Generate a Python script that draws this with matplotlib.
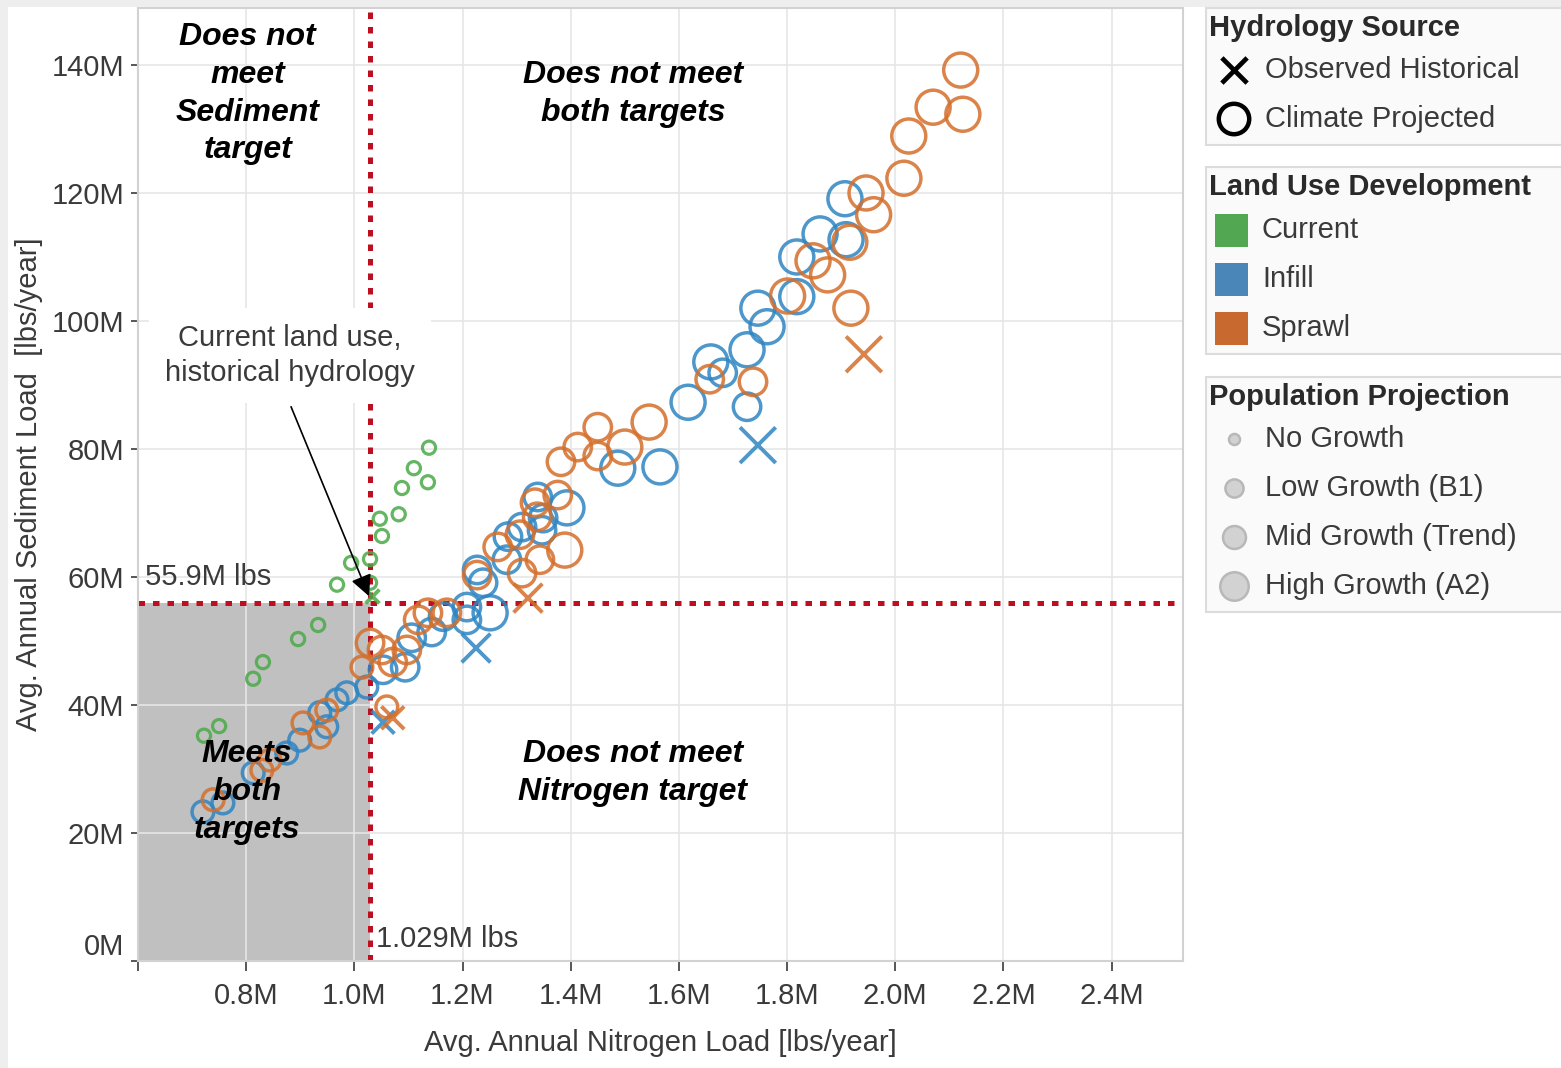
import matplotlib.pyplot as plt
import numpy as np

plt.rcParams['font.family'] = ['Liberation Sans', 'DejaVu Sans']

# growth class: 0 no growth, 1 low (B1), 2 mid (trend), 3 high (A2)
cur_x = [1.138, 1.110, 1.136, 1.088, 1.082, 1.047, 1.051, 1.029, 0.994, 0.968,
         1.029, 0.933, 0.896, 0.831, 0.813, 0.750, 0.722]
cur_y = [80.2, 77.0, 74.8, 73.9, 69.8, 69.1, 66.4, 62.8, 62.2, 58.8,
         59.1, 52.5, 50.3, 46.7, 44.1, 36.7, 35.2]
cur_hist_x = [1.033]
cur_hist_y = [57.0]

inf_x = [1.907, 1.861, 1.909, 1.818, 1.818, 1.746, 1.763, 1.726, 1.659, 1.681,
         1.617, 1.726, 1.565, 1.487, 1.393, 1.339, 1.349, 1.310, 1.284, 1.347,
         1.282, 1.227, 1.238, 1.251, 1.208, 1.208, 1.164, 1.143, 1.106, 1.094,
         1.053, 1.023, 0.986, 0.968, 0.936, 0.949, 0.899, 0.875, 0.813, 0.757,
         0.720]
inf_y = [119.1, 113.6, 112.7, 110.0, 103.8, 102.0, 99.1, 95.5, 93.6, 91.9,
         87.3, 86.6, 77.2, 77.0, 70.8, 72.5, 69.2, 67.8, 66.3, 67.3,
         62.7, 61.1, 59.1, 54.4, 53.3, 55.3, 53.8, 51.4, 50.5, 45.9,
         45.5, 42.8, 41.9, 40.8, 38.8, 36.6, 34.5, 32.5, 29.4, 24.7,
         23.3]
inf_g = [3, 3, 3, 3, 3, 3, 3, 3, 3, 2,
         3, 2, 3, 3, 3, 2, 2, 2, 2, 2,
         2, 2, 2, 3, 2, 2, 2, 2, 2, 2,
         2, 1, 1, 1, 1, 1, 1, 1, 1, 1,
         1]
inf_hist_x = [1.746, 1.225, 1.053]
inf_hist_y = [80.6, 48.9, 37.3]
inf_hist_g = [3, 2, 1]

spr_x = [2.121, 2.070, 2.125, 2.025, 2.016, 1.946, 1.960, 1.916, 1.848, 1.875,
         1.918, 1.801, 1.657, 1.737, 1.545, 1.450, 1.413, 1.500, 1.450, 1.382,
         1.376, 1.334, 1.338, 1.306, 1.265, 1.389, 1.343, 1.310, 1.227, 1.171,
         1.136, 1.118, 1.097, 1.051, 1.071, 1.029, 1.014, 1.060, 0.949, 0.905,
         0.936, 0.844, 0.829, 0.739]
spr_y = [139.2, 133.4, 132.3, 128.9, 122.3, 120.0, 116.6, 112.3, 109.4, 107.2,
         102.0, 103.9, 90.9, 90.5, 84.2, 83.4, 80.3, 80.3, 78.9, 78.0,
         72.8, 71.6, 69.4, 66.6, 64.7, 64.2, 62.7, 60.6, 60.3, 54.4,
         54.4, 53.3, 48.6, 48.6, 46.7, 49.7, 45.9, 39.7, 39.2, 37.2,
         35.0, 31.4, 29.8, 25.2]
spr_g = [3, 3, 3, 3, 3, 3, 3, 3, 3, 3,
         3, 3, 2, 2, 3, 2, 2, 3, 2, 2,
         2, 2, 2, 2, 2, 3, 2, 2, 2, 2,
         2, 2, 2, 2, 2, 2, 1, 1, 1, 1,
         1, 1, 1, 1]
spr_hist_x = [1.942, 1.321, 1.071]
spr_hist_y = [94.8, 56.7, 38.0]
spr_hist_g = [3, 2, 1]

n_target = 1.029   # M lbs nitrogen
s_target = 55.9    # M lbs sediment

growth_labels = ['No Growth', 'Low Growth (B1)', 'Mid Growth (Trend)', 'High Growth (A2)']
landuse_labels = ['Current', 'Infill', 'Sprawl']
hydro_labels = ['Observed Historical', 'Climate Projected']

x_ticks = [0.6, 0.8, 1.0, 1.2, 1.4, 1.6, 1.8, 2.0, 2.2, 2.4]
y_ticks = [0, 20, 40, 60, 80, 100, 120, 140]

GREEN, BLUE, ORANGE = '#4aaa48', '#2f85c2', '#d46f2b'
LEG_COLORS = ['#52a852', '#4a87b8', '#c86a30']
sizes = np.array([90, 245, 390, 600])
TXT = '#3a3a3a'
FS = 21

W, H = 1561, 1068
fig = plt.figure(figsize=(W / 100, H / 100), dpi=100)
fig.patch.set_facecolor('white')

ax = fig.add_axes([138 / W, 1 - 961 / H, 1045 / W, 953 / H])
ax.set_xlim(0.6, 2.532)
ax.set_ylim(0, 148.9)
ax.set_axisbelow(True)
ax.grid(True, color='#e6e6e6', lw=1.2)

ax.fill_between([0.6, n_target], 0, s_target, color='#c0c0c0', lw=0, zorder=0.2)

red = '#bd0f1f'
ax.axvline(n_target, color=red, lw=3.6, ls=(0, (1.3, 1.6)), dash_capstyle='butt', zorder=1.5)
ax.plot([0.6, 2.525], [s_target, s_target], color=red, lw=3.6, ls=(0, (1.3, 1.6)),
        dash_capstyle='butt', zorder=1.5)

def ring(x, y, g, color, lw=2.5):
    ax.scatter(x, y, s=sizes[np.array(g)], facecolors='none', edgecolors=color,
               linewidths=lw, alpha=0.85, zorder=3)

def cross(x, y, g, color):
    ax.scatter(x, y, s=sizes[np.array(g)] * 1.1, marker='x', c=color,
               linewidths=2.8, alpha=0.85, zorder=3)

ring(cur_x, cur_y, [0] * len(cur_x), GREEN, lw=2.3)
cross(cur_hist_x, cur_hist_y, [0], GREEN)
ring(inf_x, inf_y, inf_g, BLUE)
cross(inf_hist_x, inf_hist_y, inf_hist_g, BLUE)
ring(spr_x, spr_y, spr_g, ORANGE)
cross(spr_hist_x, spr_hist_y, spr_hist_g, ORANGE)

ax.set_xticks(x_ticks)
ax.set_xticklabels([''] + ['%.1fM' % v for v in x_ticks[1:]])
ax.set_yticks(y_ticks)
ax.set_yticklabels(['%dM' % v for v in y_ticks])
ax.tick_params(axis='x', labelsize=FS, colors=TXT, length=7, width=1.2, pad=8)
ax.tick_params(axis='y', labelsize=FS, colors=TXT, length=5, width=1.2, pad=5)
for t in ax.xaxis.get_major_ticks() + ax.yaxis.get_major_ticks():
    t.tick1line.set_color('#c8c8c8')
ax.yaxis.get_major_ticks()[0].label1.set_va('bottom')
for s in ax.spines.values():
    s.set_color('#d2d2d2')
    s.set_linewidth(1.5)

ax.set_xlabel('Avg. Annual Nitrogen Load [lbs/year]', fontsize=FS, color=TXT, labelpad=14)
ax.set_ylabel('Avg. Annual Sediment Load  [lbs/year]', fontsize=FS, color=TXT, labelpad=6)

qf = dict(fontsize=23, fontweight='bold', fontstyle='italic', ha='center', va='center',
          linespacing=1.33, zorder=5)
ax.text(0.803, 135.5, 'Does not\nmeet\nSediment\ntarget', **qf)
ax.text(1.515, 135.5, 'Does not meet\nboth targets', **qf)
ax.text(1.515, 29.4, 'Does not meet\nNitrogen target', **qf)
ax.text(0.801, 26.4, 'Meets\nboth\ntargets', **qf)

ax.text(0.613, 60.0, '%.1fM lbs' % s_target, fontsize=FS, color=TXT, ha='left', va='center', zorder=5)
ax.text(1.040, 3.4, '%.3fM lbs' % n_target, fontsize=FS, color=TXT, ha='left', va='center', zorder=5)

ax.text(0.881, 94.6, 'Current land use,\nhistorical hydrology', fontsize=FS, color=TXT,
        ha='center', va='center', linespacing=1.3, zorder=4,
        bbox=dict(boxstyle='square,pad=0.55', fc='white', ec='none'))
ax.annotate('', xy=(n_target, 56.6), xytext=(0.881, 87.0),
            arrowprops=dict(arrowstyle='-|>', color='black', lw=1.2, mutation_scale=32),
            zorder=6)

# legend panel, drawn in pixel space
lax = fig.add_axes([0, 0, 1, 1])
lax.set_xlim(0, W)
lax.set_ylim(H, 0)
lax.axis('off')
lax.patch.set_alpha(0)

lax.add_patch(plt.Rectangle((0, 0), W, 7, color='#eeeeee', lw=0))
lax.add_patch(plt.Rectangle((0, 0), 8, H, color='#eeeeee', lw=0))

def panel(y0, y1, title):
    lax.add_patch(plt.Rectangle((1206, y0), 360, y1 - y0, fc='#fafafa', ec='#dcdcdc', lw=1.5))
    lax.text(1209, y0 + 20, title, fontsize=FS, fontweight='bold', color='#2a2a2a',
             ha='left', va='center')

panel(8, 145, 'Hydrology Source')
lax.scatter([1234], [70], s=330, marker='x', c='black', linewidths=3.4)
lax.scatter([1234], [119], s=480, facecolors='none', edgecolors='black', linewidths=3.2)
for yy, lab in zip([70, 119], hydro_labels):
    lax.text(1265, yy, lab, fontsize=FS, color=TXT, ha='left', va='center')

panel(167, 354, 'Land Use Development')
for yy, lab, c in zip([230, 279, 328], landuse_labels, LEG_COLORS):
    lax.add_patch(plt.Rectangle((1215, yy - 16.5), 33, 33, color=c, lw=0))
    lax.text(1262, yy, lab, fontsize=FS, color=TXT, ha='left', va='center')

panel(377, 612, 'Population Projection')
for i, (yy, lab) in enumerate(zip([439, 488, 537, 586], growth_labels)):
    lax.scatter([1234], [yy], s=sizes[i] * 0.7, facecolors='#d2d2d2', edgecolors='#b8b8b8',
                linewidths=1.8)
    lax.text(1265, yy, lab, fontsize=FS, color=TXT, ha='left', va='center')

fig.savefig('out.png', dpi=100)
